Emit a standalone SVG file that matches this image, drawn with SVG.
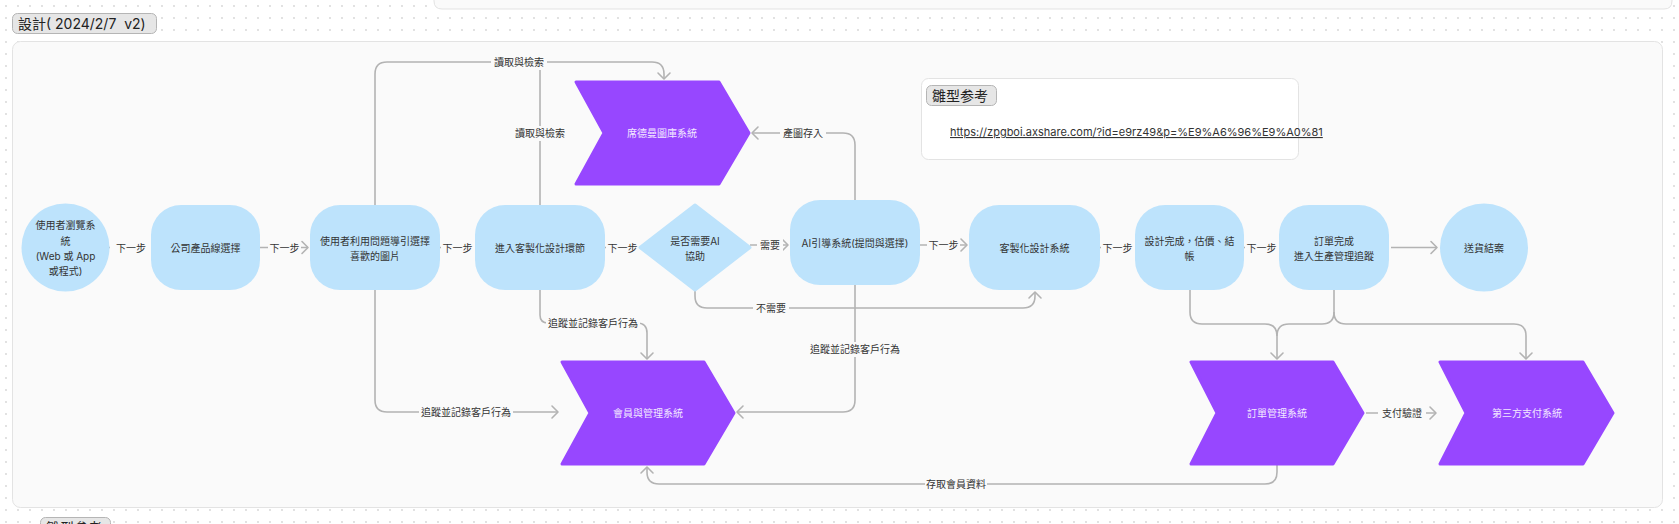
<svg xmlns="http://www.w3.org/2000/svg" width="1679" height="524" viewBox="0 0 1679 524">
<defs>
<pattern id="dots" width="12" height="12" patternUnits="userSpaceOnUse">
<circle cx="6" cy="6" r="0.9" fill="#d4d4d4"/>
</pattern>
<marker id="arr" viewBox="-8 -8 10 16" refX="0" refY="0" markerWidth="10" markerHeight="16" markerUnits="userSpaceOnUse" orient="auto">
<path d="M-6,-6 L0,0 L-6,6" fill="none" stroke="#b3b3b3" stroke-width="1.6" stroke-linecap="round" stroke-linejoin="round"/>
</marker>
<style>
.t{font-family:Inter,"Noto Sans CJK TC","Noto Sans CJK SC",sans-serif;font-size:10px;fill:#333;text-anchor:middle;dominant-baseline:central}
.w{font-family:Inter,"Noto Sans CJK TC","Noto Sans CJK SC",sans-serif;font-size:10px;fill:#f3e8ff;text-anchor:middle;dominant-baseline:central}
.node{fill:#bde3fc}
.chev{fill:#9747ff;stroke:#9747ff;stroke-width:3;stroke-linejoin:round}
.c{fill:none;stroke:#b3b3b3;stroke-width:1.6}
.lb{fill:#fafafa}
.tag{fill:#e6e6e6;stroke:#b5b5b5;stroke-width:1}
.big{font-family:Inter,"Noto Sans CJK TC","Noto Sans CJK SC",sans-serif;font-size:14px;fill:#222}
</style>
</defs>
<rect x="0" y="0" width="1679" height="524" fill="#ffffff"/>
<rect x="0" y="0" width="1679" height="524" fill="url(#dots)"/>

<!-- partial top container -->
<path d="M434,-10 V1 Q434,9 442,9 H1664 Q1672,9 1672,1 V-10 Z" fill="#fafafa" stroke="#e3e3e3" stroke-width="1"/>

<!-- title tag -->
<g id="title">
<rect class="tag" x="12.5" y="13.5" width="144" height="20" rx="5"/>
<text class="big" x="18" y="29" xml:space="preserve">設計( 2024/2/7  v2)</text>
</g>

<!-- main container -->
<rect x="12.5" y="41.5" width="1650" height="466" rx="8" fill="#fafafa" stroke="#e3e3e3" stroke-width="1"/>

<!-- bottom partial tag -->
<g id="tag2">
<rect class="tag" x="40.5" y="517.5" width="70" height="20" rx="5"/>
<text class="big" x="46" y="533">雛型参考</text>
</g>

<!-- reference box -->
<g id="ref">
<rect x="921.5" y="78.5" width="377" height="81" rx="7" fill="#ffffff" stroke="#e3e3e3" stroke-width="1"/>
<rect class="tag" x="926.5" y="85.5" width="70" height="20" rx="5"/>
<text class="big" x="932" y="101">雛型参考</text>
<text x="950" y="136" font-family="Inter,'Noto Sans',sans-serif" font-size="11" fill="#333" text-decoration="underline">https://zpgboi.axshare.com/?id=e9rz49&amp;p=%E9%A6%96%E9%A0%81</text>
</g>

<!-- connectors -->
<g id="connectors">
<path class="c" d="M109,247.5 H151"/>
<path class="c" d="M260,247.5 H308" marker-end="url(#arr)"/>
<path class="c" d="M440,247.5 H475"/>
<path class="c" d="M605,247.5 H640"/>
<path class="c" d="M750,245 H788" marker-end="url(#arr)"/>
<path class="c" d="M920,245 H967" marker-end="url(#arr)"/>
<path class="c" d="M1100,247.5 H1135"/>
<path class="c" d="M1244,247.5 H1279"/>
<path class="c" d="M1391,247.5 H1437" marker-end="url(#arr)"/>
<path class="c" d="M375,205 V74 Q375,62 387,62 H652 Q664,62 664,74 V79" marker-end="url(#arr)"/>
<path class="c" d="M540,205 V62"/>
<path class="c" d="M855,200 V145 Q855,133 843,133 H752" marker-end="url(#arr)"/>
<path class="c" d="M695,290 V296 Q695,308 707,308 H1023 Q1035,308 1035,296 V292" marker-end="url(#arr)"/>
<path class="c" d="M375,290 V400 Q375,412 387,412 H558" marker-end="url(#arr)"/>
<path class="c" d="M540,290 V315 Q540,323 548,323 H637 Q647,323 647,333 V359" marker-end="url(#arr)"/>
<path class="c" d="M855,285 V400 Q855,412 843,412 H737" marker-end="url(#arr)"/>
<path class="c" d="M1277,465 V472 Q1277,484 1265,484 H659 Q647,484 647,472 V467" marker-end="url(#arr)"/>
<path class="c" d="M1190,290 V312 Q1190,324 1202,324 H1265 Q1277,324 1277,336 V359" marker-end="url(#arr)"/>
<path class="c" d="M1334,290 V312 Q1334,324 1322,324 H1289 Q1277,324 1277,336"/>
<path class="c" d="M1334,312 Q1334,324 1346,324 H1514 Q1526,324 1526,336 V359" marker-end="url(#arr)"/>
<path class="c" d="M1366,413 H1436" marker-end="url(#arr)"/>

<rect class="lb" x="110" y="240" width="41" height="15"/><text class="t" x="131" y="247.5">下一步</text>
<rect class="lb" x="268" y="240" width="33" height="15"/><text class="t" x="284.5" y="247.5">下一步</text>
<rect class="lb" x="441" y="240" width="34" height="15"/><text class="t" x="457.5" y="247.5">下一步</text>
<rect class="lb" x="606" y="240" width="34" height="15"/><text class="t" x="622.5" y="247.5">下一步</text>
<rect class="lb" x="757" y="237" width="26" height="15"/><text class="t" x="770" y="245">需要</text>
<rect class="lb" x="927" y="237" width="33" height="15"/><text class="t" x="943.5" y="245">下一步</text>
<rect class="lb" x="1101" y="240" width="34" height="15"/><text class="t" x="1117.5" y="247.5">下一步</text>
<rect class="lb" x="1245" y="240" width="34" height="15"/><text class="t" x="1261.5" y="247.5">下一步</text>
<rect class="lb" x="491" y="55" width="56" height="15"/><text class="t" x="519" y="62">讀取與檢索</text>
<rect class="lb" x="512" y="126" width="56" height="15"/><text class="t" x="540" y="133">讀取與檢索</text>
<rect class="lb" x="780" y="126" width="46" height="15"/><text class="t" x="803" y="133">產圖存入</text>
<rect class="lb" x="753" y="301" width="36" height="15"/><text class="t" x="771" y="308">不需要</text>
<rect class="lb" x="419" y="405" width="94" height="15"/><text class="t" x="466" y="412">追蹤並記錄客戶行為</text>
<rect class="lb" x="546" y="316" width="94" height="15"/><text class="t" x="593" y="323">追蹤並記錄客戶行為</text>
<rect class="lb" x="808" y="342" width="94" height="15"/><text class="t" x="855" y="349">追蹤並記錄客戶行為</text>
<rect class="lb" x="925" y="477" width="62" height="15"/><text class="t" x="956" y="484">存取會員資料</text>
<rect class="lb" x="1378" y="406" width="48" height="15"/><text class="t" x="1402" y="413">支付驗證</text>
</g>

<!-- nodes -->
<g id="n1"><circle class="node" cx="65.5" cy="247.5" r="44"/>
<text class="t" x="65.5" y="225">使用者瀏覽系</text><text class="t" x="65.5" y="240.5">統</text><text class="t" x="65.5" y="256">(Web 或 App</text><text class="t" x="65.5" y="271">或程式)</text></g>
<g id="n2"><rect class="node" x="151" y="205" width="109" height="85" rx="30"/><text class="t" x="205.5" y="247.5">公司產品線選擇</text></g>
<g id="n3"><rect class="node" x="310" y="205" width="130" height="85" rx="30"/><text class="t" x="375" y="241">使用者利用問題導引選擇</text><text class="t" x="375" y="256">喜歡的圖片</text></g>
<g id="n4"><rect class="node" x="475" y="205" width="130" height="85" rx="30"/><text class="t" x="540" y="247.5">進入客製化設計環節</text></g>
<g id="n5"><polygon class="node" points="695,205 750,247.5 695,290 640,247.5" stroke="#bde3fc" stroke-width="3" stroke-linejoin="round"/><text class="t" x="695" y="241">是否需要AI</text><text class="t" x="695" y="256">協助</text></g>
<g id="n6"><rect class="node" x="790" y="200" width="130" height="85" rx="30"/><text class="t" x="855" y="242.5">AI引導系統(提問與選擇)</text></g>
<g id="n7"><rect class="node" x="969" y="205" width="131" height="85" rx="30"/><text class="t" x="1034.5" y="247.5">客製化設計系統</text></g>
<g id="n8"><rect class="node" x="1135" y="205" width="109" height="85" rx="30"/><text class="t" x="1189.5" y="241">設計完成，估價、結</text><text class="t" x="1189.5" y="256">帳</text></g>
<g id="n9"><rect class="node" x="1279" y="205" width="110" height="85" rx="30"/><text class="t" x="1334" y="241">訂單完成</text><text class="t" x="1334" y="256">進入生產管理追蹤</text></g>
<g id="n10"><circle class="node" cx="1484" cy="247.5" r="44"/><text class="t" x="1484" y="247.5">送貨結案</text></g>

<g id="c1"><polygon class="chev" points="576,82 719,82 749,133 719,184 576,184 604,133"/><text class="w" x="662" y="133">席德曼圖庫系統</text></g>
<g id="c2"><polygon class="chev" points="562,362 704,362 734,413 704,464 562,464 590,413"/><text class="w" x="648" y="413">會員與管理系統</text></g>
<g id="c3"><polygon class="chev" points="1191,362 1333,362 1363,413 1333,464 1191,464 1217,413"/><text class="w" x="1277" y="413">訂單管理系統</text></g>
<g id="c4"><polygon class="chev" points="1440,362 1583,362 1613,413 1583,464 1440,464 1466,413"/><text class="w" x="1527" y="413">第三方支付系統</text></g>
</svg>
